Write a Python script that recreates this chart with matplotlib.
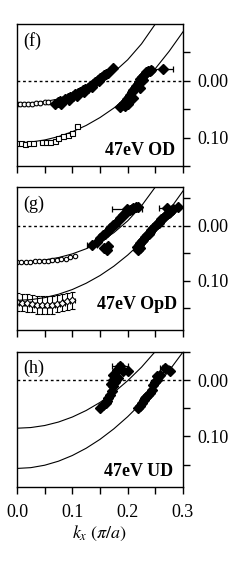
import matplotlib
matplotlib.use("Agg")
import matplotlib.pyplot as plt

plt.rcParams['font.family'] = ['Liberation Serif', 'DejaVu Serif']
plt.rcParams['mathtext.fontset'] = 'stix'

# ---------------- data ----------------
fit_k = [0.0, 0.025, 0.05, 0.075, 0.10, 0.125, 0.15, 0.175, 0.20, 0.225, 0.25, 0.275, 0.30]

# panel (f) 47eV OD
f_fit_upper = [0.040, 0.039, 0.0365, 0.032, 0.025, 0.0153, 0.0023, -0.015, -0.037, -0.065, -0.100, -0.143, -0.19]
f_fit_lower = [0.109, 0.1078, 0.1042, 0.0982, 0.0897, 0.0786, 0.0647, 0.048, 0.0282, 0.0051, -0.0215, -0.052, -0.0863]
f_open_k = [0.0, 0.005, 0.013, 0.020, 0.027, 0.034, 0.042, 0.051, 0.056]
f_open_e = [0.040, 0.040, 0.041, 0.040, 0.040, 0.039, 0.039, 0.038, 0.037]
f_sq_k = [0.0, 0.007, 0.014, 0.022, 0.029, 0.045, 0.052, 0.060, 0.069, 0.074, 0.083, 0.092, 0.099, 0.108]
f_sq_e = [0.110, 0.110, 0.111, 0.110, 0.110, 0.108, 0.108, 0.107, 0.106, 0.101, 0.098, 0.095, 0.092, 0.080]
f_fill1_k = [0.069, 0.074, 0.078, 0.083, 0.087, 0.092, 0.096, 0.101, 0.105, 0.110, 0.114, 0.119, 0.123,
             0.128, 0.132, 0.137, 0.141, 0.146, 0.150, 0.154, 0.157, 0.161, 0.164, 0.173,
             0.080, 0.094, 0.108, 0.121, 0.135, 0.148]
f_fill1_e = [0.040, 0.038, 0.036, 0.035, 0.032, 0.031, 0.029, 0.026, 0.024, 0.022, 0.020, 0.017, 0.014,
             0.012, 0.009, 0.006, 0.002, -0.001, -0.005, -0.007, -0.010, -0.012, -0.014, -0.023,
             0.040, 0.033, 0.027, 0.020, 0.011, 0.000]
f_fill2_k = [0.186, 0.190, 0.193, 0.197, 0.199, 0.202, 0.204, 0.207, 0.210, 0.213, 0.215, 0.218, 0.220,
             0.223, 0.226, 0.229, 0.231, 0.234, 0.237, 0.240, 0.242, 0.200, 0.210, 0.222, 0.195, 0.228]
f_fill2_e = [0.046, 0.042, 0.039, 0.035, 0.032, 0.028, 0.025, 0.020, 0.016, 0.012, 0.009, 0.005, 0.002,
             -0.003, -0.007, -0.010, -0.012, -0.015, -0.017, -0.018, -0.019, 0.040, 0.030, 0.012, 0.045, -0.002]
f_err_k, f_err_e, f_err_x = [0.264], [-0.021], [0.018]

# panel (g) 47eV OpD
g_fit_upper = [0.066, 0.0652, 0.0627, 0.0583, 0.0516, 0.0423, 0.0297, 0.0131, -0.0084, -0.0357, -0.070, -0.112, -0.16]
g_fit_lower = [0.136, 0.1348, 0.1312, 0.125, 0.1164, 0.105, 0.091, 0.074, 0.0538, 0.0304, 0.0033, -0.0277, -0.0628]
g_open_k = [0.0, 0.008, 0.016, 0.024, 0.032, 0.040, 0.048, 0.056, 0.064, 0.072, 0.080, 0.088, 0.096, 0.105]
g_open_e = [0.066, 0.066, 0.066, 0.066, 0.065, 0.065, 0.064, 0.064, 0.063, 0.062, 0.061, 0.060, 0.058, 0.056]
g_dia_k = [0.0, 0.009, 0.018, 0.027, 0.036, 0.045, 0.054, 0.063, 0.072, 0.081, 0.090, 0.099]
g_dia_e = [0.139, 0.140, 0.141, 0.142, 0.144, 0.145, 0.145, 0.144, 0.142, 0.140, 0.138, 0.136]
g_fill1_k = [0.145, 0.150, 0.155, 0.159, 0.163, 0.168, 0.171, 0.174, 0.178, 0.181, 0.186, 0.189,
             0.192, 0.196, 0.199, 0.204, 0.207, 0.210, 0.215, 0.219, 0.163, 0.165, 0.158]
g_fill1_e = [0.030, 0.023, 0.017, 0.015, 0.012, 0.005, 0.002, -0.001, -0.003, -0.006, -0.014, -0.016,
             -0.019, -0.022, -0.025, -0.028, -0.030, -0.032, -0.033, -0.034, 0.045, 0.037, 0.040]
g_fill2_k = [0.217, 0.220, 0.222, 0.225, 0.228, 0.231, 0.235, 0.238, 0.240, 0.243, 0.246, 0.250, 0.253,
             0.256, 0.258, 0.261, 0.264, 0.268, 0.271, 0.274, 0.277, 0.280, 0.282, 0.291, 0.219, 0.223]
g_fill2_e = [0.039, 0.035, 0.032, 0.029, 0.026, 0.021, 0.017, 0.015, 0.012, 0.008, 0.005, 0.001, -0.003,
             -0.005, -0.008, -0.011, -0.014, -0.018, -0.021, -0.023, -0.025, -0.028, -0.030, -0.034, 0.045, 0.040]
g_err_k, g_err_e, g_err_x = [0.136, 0.199, 0.271], [0.035, -0.030, -0.032], [0.009, 0.027, 0.014]

# panel (h) 47eV UD
h_fit_upper = [0.0855, 0.0843, 0.0807, 0.0745, 0.0656, 0.054, 0.0396, 0.022, 0.001, -0.023, -0.051, -0.083, -0.12]
h_fit_lower = [0.157, 0.1556, 0.1513, 0.1441, 0.134, 0.1211, 0.1053, 0.0866, 0.065, 0.0406, 0.0133, -0.0169, -0.050]
h_fill1_k = [0.150, 0.155, 0.160, 0.163, 0.164, 0.168, 0.172, 0.174, 0.174, 0.177, 0.174, 0.183,
             0.181, 0.192, 0.201, 0.170, 0.178]
h_fill1_e = [0.050, 0.044, 0.040, 0.037, 0.032, 0.026, 0.020, 0.011, 0.000, -0.007, -0.009, -0.004,
             -0.018, -0.016, -0.016, 0.006, 0.003]
h_fill2_k = [0.219, 0.222, 0.226, 0.229, 0.231, 0.234, 0.237, 0.240, 0.244, 0.246, 0.250, 0.253,
             0.253, 0.258, 0.276]
h_fill2_e = [0.050, 0.046, 0.041, 0.036, 0.032, 0.030, 0.027, 0.022, 0.018, 0.009, 0.004, 0.000,
             -0.007, -0.009, -0.016]
h_err_k, h_err_e, h_err_x, h_err_y = [0.186, 0.267], [-0.025, -0.021], [0.015, 0.008], [0.006, 0.006]

x_ticks = [0.0, 0.05, 0.10, 0.15, 0.20, 0.25, 0.30]
x_labels = ['0.0', '', '0.1', '', '0.2', '', '0.3']
y_ticks = [-0.05, 0.0, 0.05, 0.10, 0.15]
y_labels = ['', '0.00', '', '0.10', '']

panel_tags = ['(f)', '(g)', '(h)']
panel_names = ['47eV OD', '47eV OpD', '47eV UD']
panel_ylims = [(-0.10, 0.15), (-0.07, 0.19), (-0.05, 0.19)]

# ---------------- figure ----------------
W, H = 249, 566
fig = plt.figure(figsize=(W / 100, H / 100), dpi=100)
boxes = [(24, 166), (187, 330), (352, 487)]
axes = []
for (t, b) in boxes:
    ax = fig.add_axes([17 / W, 1 - b / H, (183 - 17) / W, (b - t) / H])
    axes.append(ax)

fill_kw = dict(marker='D', ms=5.2, color='black', ls='none', mec='black', mew=1.0)
err_kw = dict(fmt='D', ms=5.2, color='black', ecolor='black', elinewidth=0.9, capsize=2.5, capthick=0.9)

# (f)
ax = axes[0]
ax.plot(fit_k, f_fit_upper, color='black', lw=0.8)
ax.plot(fit_k, f_fit_lower, color='black', lw=0.8)
ax.errorbar(f_open_k, f_open_e, xerr=0.004, fmt='o', ms=3.4, mfc='white', mec='black', mew=0.8,
            ecolor='black', elinewidth=0.8, capsize=0)
ax.errorbar(f_sq_k, f_sq_e, xerr=0.003, yerr=0.002, fmt='s', ms=3.6, mfc='white', mec='black', mew=0.8,
            ecolor='black', elinewidth=0.8, capsize=1.5)
ax.plot(f_fill1_k, f_fill1_e, **fill_kw)
ax.plot(f_fill2_k, f_fill2_e, **fill_kw)
ax.errorbar(f_err_k, f_err_e, xerr=f_err_x, **err_kw)

# (g)
ax = axes[1]
ax.plot(fit_k, g_fit_upper, color='black', lw=0.8)
ax.plot(fit_k, g_fit_lower, color='black', lw=0.8)
ax.errorbar(g_open_k, g_open_e, xerr=0.004, fmt='o', ms=3.2, mfc='white', mec='black', mew=0.8,
            ecolor='black', elinewidth=0.8, capsize=0)
ax.errorbar(g_dia_k, g_dia_e, xerr=0.006, yerr=0.016, fmt='D', ms=3.4, mfc='white', mec='black', mew=0.8,
            ecolor='black', elinewidth=0.8, capsize=1.8)
ax.plot(g_fill1_k, g_fill1_e, **fill_kw)
ax.plot(g_fill2_k, g_fill2_e, **fill_kw)
ax.errorbar(g_err_k, g_err_e, xerr=g_err_x, **err_kw)

# (h)
ax = axes[2]
ax.plot(fit_k, h_fit_upper, color='black', lw=0.8)
ax.plot(fit_k, h_fit_lower, color='black', lw=0.8)
ax.plot(h_fill1_k, h_fill1_e, **fill_kw)
ax.plot(h_fill2_k, h_fill2_e, **fill_kw)
ax.errorbar(h_err_k, h_err_e, xerr=h_err_x, yerr=h_err_y, **err_kw)

for i, ax in enumerate(axes):
    ax.axhline(0.0, color='black', lw=1.0, ls=(0, (2, 2)))
    ax.set_xlim(0.0, 0.3)
    lo, hi = panel_ylims[i]
    ax.set_ylim(hi, lo)
    ax.set_xticks(x_ticks)
    if i == 2:
        ax.set_xticklabels(x_labels)
    else:
        ax.set_xticklabels([''] * len(x_ticks))
    ax.set_yticks(y_ticks)
    ax.set_yticklabels(y_labels)
    ax.yaxis.tick_right()
    ax.tick_params(axis='both', direction='out', length=5, width=1.0, labelsize=13)
    ax.tick_params(axis='y', pad=5)
    ax.tick_params(axis='x', pad=7)
    for s in ax.spines.values():
        s.set_linewidth(1.0)
    ax.text(0.036, 0.94, panel_tags[i], transform=ax.transAxes, fontsize=13, va='top', ha='left')

axes[0].text(0.952, 0.077, panel_names[0], transform=axes[0].transAxes, fontsize=13,
             fontweight='bold', ha='right', va='baseline')
axes[1].text(0.964, 0.15, panel_names[1], transform=axes[1].transAxes, fontsize=13,
             fontweight='bold', ha='right', va='baseline')
axes[2].text(0.94, 0.081, panel_names[2], transform=axes[2].transAxes, fontsize=13,
             fontweight='bold', ha='right', va='baseline')

axes[2].set_xlabel(r'$k_x\ (\pi/a)$', fontsize=13, labelpad=2)

fig.savefig('out.png', dpi=100)
